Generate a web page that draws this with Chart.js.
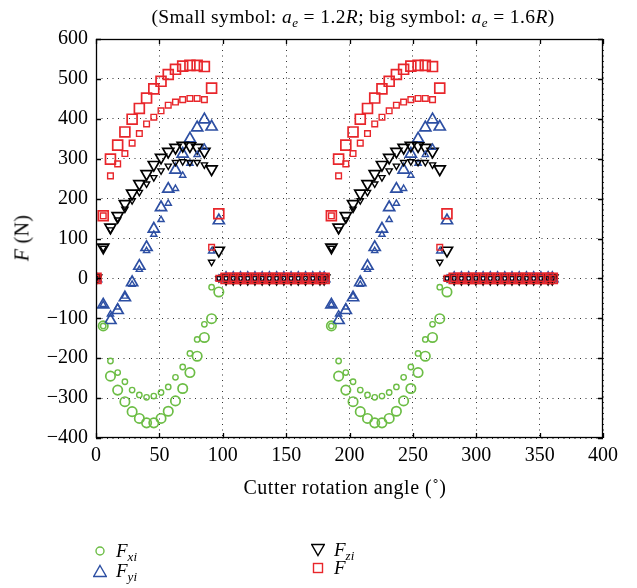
<!DOCTYPE html>
<html>
<head>
<meta charset="utf-8">
<script src="https://cdn.jsdelivr.net/npm/chart.js@4.4.0/dist/chart.umd.min.js"></script>
<style>
    body { margin: 0; background: #fff; }
    #wrap { position: relative; width: 637px; height: 588px; font-family: "Liberation Serif", "DejaVu Serif", serif; color: #000; }
    #chart { position: absolute; left: 0; top: 0; }
    .title { position: absolute; left: 353px; top: 6px; transform: translateX(-50%); white-space: nowrap; font-size: 19.5px; letter-spacing: 0.4px; }
    .ytitle { position: absolute; left: 22px; top: 238px; transform: translate(-50%, -50%) rotate(-90deg); font-size: 20px; white-space: nowrap; letter-spacing: 0.3px; }
    .xtitle { position: absolute; left: 345px; top: 476px; transform: translateX(-50%); font-size: 20px; white-space: nowrap; letter-spacing: 0.5px; }
    .leg { position: absolute; font-size: 19px; white-space: nowrap; display: flex; align-items: center; height: 20px; }
    .leg svg { margin-right: 9px; }
    sub { font-size: 13px; vertical-align: -4px; line-height: 0; }
</style>
</head>
<body>
<div id="wrap">
    <canvas id="chart" width="637" height="588"></canvas>
    <div class="title">(Small symbol: <i>a</i><sub><i>e</i></sub> = 1.2<i>R</i>; big symbol: <i>a</i><sub><i>e</i></sub> = 1.6<i>R</i>)</div>
    <div class="ytitle"><i>F</i> (N)</div>
    <div class="xtitle">Cutter rotation angle (&#730;)</div>

    <div class="leg" style="left:93px; top:541px;">
        <svg width="14" height="14"><circle cx="7" cy="7" r="4" fill="none" stroke="#6cbd45" stroke-width="1.4"/></svg>
        <span><i>F</i><sub><i>xi</i></sub></span>
    </div>
    <div class="leg" style="left:93px; top:561px;">
        <svg width="14" height="14"><polygon points="7,1.5 13.3,12.5 0.7,12.5" fill="none" stroke="#2d4fa3" stroke-width="1.4"/></svg>
        <span><i>F</i><sub><i>yi</i></sub></span>
    </div>
    <div class="leg" style="left:311px; top:540px;">
        <svg width="14" height="14"><polygon points="7,12.5 13.3,1.5 0.7,1.5" fill="none" stroke="#000" stroke-width="1.4"/></svg>
        <span><i>F</i><sub><i>zi</i></sub></span>
    </div>
    <div class="leg" style="left:311px; top:558px;">
        <svg width="14" height="14"><rect x="2.5" y="2.5" width="9" height="9" fill="none" stroke="#e8262b" stroke-width="1.4"/></svg>
        <span><i>F</i></span>
    </div>
</div>

<script>
// cutter rotation angle (deg), two teeth: 0-180 and 180-360
const angles = [
    0, 5.7, 11.4, 17.1, 22.8, 28.5, 34.2, 39.9, 45.6, 51.3, 57, 62.7, 68.4, 74.1, 79.8, 85.5,
    91.2, 96.9, 102.6, 108.3, 114, 119.7, 125.4, 131.1, 136.8, 142.5, 148.2, 153.9, 159.6, 165.3, 171, 176.7,
    180, 185.7, 191.4, 197.1, 202.8, 208.5, 214.2, 219.9, 225.6, 231.3, 237, 242.7, 248.4, 254.1, 259.8, 265.5,
    271.2, 276.9, 282.6, 288.3, 294, 299.7, 305.4, 311.1, 316.8, 322.5, 328.2, 333.9, 339.6, 345.3, 351, 356.7,
    360
];

// one tooth pass (32 samples), the second tooth gives the same forces
// big symbol: ae = 1.6R
const fxBig = [0, -119, -245, -280, -309, -334, -351, -362, -362, -351, -333, -307, -276, -236, -195, -148, -101, -34, 0, 0, 0, 0, 0, 0, 0, 0, 0, 0, 0, 0, 0, 0];
const fyBig = [0, -66, -105, -80, -48, -10, 31, 78, 124, 178, 224, 272, 312, 350, 378, 398, 380, 145, 0, 0, 0, 0, 0, 0, 0, 0, 0, 0, 0, 0, 0, 0];
const fzBig = [0, 78, 128, 157, 187, 213, 237, 262, 285, 303, 318, 328, 333, 332, 328, 318, 274, 70, 0, 0, 0, 0, 0, 0, 0, 0, 0, 0, 0, 0, 0, 0];
const fBig  = [0, 157, 299, 334, 367, 399, 426, 452, 475, 494, 511, 524, 532, 534, 534, 531, 477, 162, 0, 0, 0, 0, 0, 0, 0, 0, 0, 0, 0, 0, 0, 0];

// small symbol: ae = 1.2R
const fxSmall = [0, -119, -207, -236, -259, -280, -292, -298, -295, -286, -272, -248, -222, -188, -153, -115, -22, 0, 0, 0, 0, 0, 0, 0, 0, 0, 0, 0, 0, 0, 0, 0];
const fySmall = [0, -66, -90, -72, -45, -15, 22, 69, 110, 147, 188, 225, 258, 288, 310, 328, 68, 0, 0, 0, 0, 0, 0, 0, 0, 0, 0, 0, 0, 0, 0, 0];
const fzSmall = [0, 76, 122, 147, 174, 195, 216, 237, 253, 270, 282, 291, 293, 291, 291, 285, 41, 0, 0, 0, 0, 0, 0, 0, 0, 0, 0, 0, 0, 0, 0, 0];
const fSmall  = [0, 157, 257, 287, 313, 339, 363, 387, 404, 420, 434, 442, 448, 451, 451, 448, 78, 0, 0, 0, 0, 0, 0, 0, 0, 0, 0, 0, 0, 0, 0, 0];

const GREEN = '#6cbd45';
const BLUE = '#2d4fa3';
const BLACK = '#000000';
const RED = '#e8262b';
const FONT = '"Liberation Serif", "DejaVu Serif", serif';

function toPoints(vals) {
    return angles.map((a, i) => ({ x: a, y: vals[i % vals.length] }));
}

function series(label, vals, color, style, radius, width, order, rotation) {
    return {
        label: label,
        data: toPoints(vals),
        showLine: false,
        pointStyle: style,
        pointRadius: radius,
        pointRotation: rotation || 0,
        pointBorderWidth: width,
        pointBorderColor: color,
        pointBackgroundColor: 'rgba(0,0,0,0)',
        borderColor: color,
        backgroundColor: 'rgba(0,0,0,0)',
        order: order
    };
}

// box and inward tick marks, matlab style
const frameTicks = {
    id: 'frameTicks',
    afterDatasetsDraw(chart) {
        const { ctx, chartArea: a, scales } = chart;
        const x = scales.x, y = scales.y;
        const len = 5;
        ctx.save();
        ctx.strokeStyle = '#000';
        ctx.lineWidth = 1.3;
        ctx.beginPath();
        x.ticks.forEach(t => {
            const px = Math.round(x.getPixelForValue(t.value)) + 0.5;
            ctx.moveTo(px, a.bottom); ctx.lineTo(px, a.bottom - len);
            ctx.moveTo(px, a.top); ctx.lineTo(px, a.top + len);
        });
        y.ticks.forEach(t => {
            const py = Math.round(y.getPixelForValue(t.value)) + 0.5;
            ctx.moveTo(a.left, py); ctx.lineTo(a.left + len, py);
            ctx.moveTo(a.right, py); ctx.lineTo(a.right - len, py);
        });
        ctx.stroke();
        ctx.strokeRect(a.left + 0.5, a.top + 0.5, a.width - 1, a.height - 1);
        ctx.restore();
    }
};

const ctx = document.getElementById('chart').getContext('2d');
new Chart(ctx, {
    type: 'scatter',
    data: {
        datasets: [
            series('Fxi big', fxBig, GREEN, 'circle', 4.7, 1.7, 8),
            series('Fyi big', fyBig, BLUE, 'triangle', 6.4, 1.7, 7),
            series('Fzi big', fzBig, BLACK, 'triangle', 6.4, 1.7, 6, 180),
            series('F big', fBig, RED, 'rect', 7, 1.7, 5),
            series('Fxi small', fxSmall, GREEN, 'circle', 2.7, 1.4, 4),
            series('Fyi small', fySmall, BLUE, 'triangle', 3.6, 1.4, 3),
            series('Fzi small', fzSmall, BLACK, 'triangle', 3.6, 1.4, 2, 180),
            series('F small', fSmall, RED, 'rect', 4, 1.4, 1)
        ]
    },
    options: {
        responsive: false,
        animation: false,
        events: [],
        layout: { padding: { top: 39, right: 34, left: 0, bottom: 0 } },
        plugins: {
            legend: { display: false },
            tooltip: { enabled: false },
            title: { display: false }
        },
        scales: {
            x: {
                type: 'linear',
                min: 0,
                max: 400,
                afterFit: s => { s.height = 150; },
                ticks: { stepSize: 50, padding: 6, color: '#000', font: { family: FONT, size: 20 } },
                grid: { color: '#333', lineWidth: 1, drawTicks: false },
                border: { display: false, dash: [1, 4.5] }
            },
            y: {
                type: 'linear',
                min: -400,
                max: 600,
                afterFit: s => { s.width = 96; },
                ticks: {
                    stepSize: 100,
                    padding: 8,
                    color: '#000',
                    font: { family: FONT, size: 20 },
                    callback: v => String(v).replace('-', '\u2212')
                },
                grid: { color: '#333', lineWidth: 1, drawTicks: false },
                border: { display: false, dash: [1, 4.5] }
            }
        }
    },
    plugins: [frameTicks]
});
</script>
</body>
</html>
